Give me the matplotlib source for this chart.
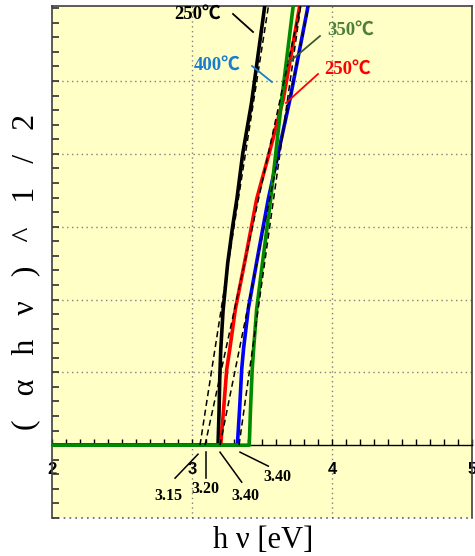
import matplotlib
matplotlib.use("Agg")
import matplotlib.pyplot as plt
from matplotlib.ticker import MultipleLocator, NullFormatter, FixedLocator

# ---- data ----
black_x = [2.00, 3.186, 3.193, 3.198, 3.205, 3.222, 3.255, 3.290, 3.322, 3.362, 3.425, 3.521]
black_y = [0.0, 0.0, 0.45, 0.90, 1.30, 1.85, 2.50, 3.00, 3.40, 4.00, 4.70, 6.05]

red_x = [2.00, 3.205, 3.226, 3.248, 3.270, 3.310, 3.385, 3.462, 3.550, 3.652, 3.771]
red_y = [0.0, 0.0, 0.50, 1.04, 1.32, 1.87, 2.60, 3.38, 4.00, 4.75, 6.05]

blue_x = [2.00, 3.324, 3.340, 3.355, 3.368, 3.402, 3.470, 3.545, 3.700, 3.831]
blue_y = [0.0, 0.0, 0.50, 1.04, 1.32, 1.87, 2.60, 3.38, 4.75, 6.05]

green_x = [2.00, 3.409, 3.418, 3.430, 3.440, 3.462, 3.510, 3.562, 3.641, 3.724]
green_y = [0.0, 0.0, 0.50, 1.04, 1.32, 1.87, 2.60, 3.38, 4.75, 6.05]

# tangent (dashed) lines: x-intercept and slope dx/dy
tangent_x0 = [3.057, 3.093, 3.200, 3.336]
tangent_dxdy = [0.0811, 0.113, 0.105, 0.073]

xticks = [2, 3, 4, 5]
intercept_labels = ["3.15", "3.20", "3.40", "3.40"]
temp_labels = ["250℃", "400℃", "350℃", "250℃"]

# ---- figure ----
fig = plt.figure(figsize=(4.75, 5.56), dpi=100)
ax = fig.add_axes([52/475, 38/556, 420/475, 512/556])
ax.set_facecolor("#ffffc6")
ax.set_xlim(2, 5)
ax.set_ylim(-1, 6.03)

# grid
for gx in [3, 4]:
    ax.axvline(gx, color="#808080", ls=(0, (1, 2.5)), lw=1.0, zorder=1)
for gy in [1, 2, 3, 4, 5]:
    ax.axhline(gy, color="#808080", ls=(0, (1, 2.5)), lw=1.0, zorder=1)

# spines
for s in ["top", "right", "left"]:
    ax.spines[s].set_color("#404040")
    ax.spines[s].set_linewidth(1.2)
ax.spines["bottom"].set_position(("data", 0))
ax.spines["bottom"].set_color("black")
ax.spines["bottom"].set_linewidth(1.0)
ax.axhline(-1, color="#606060", ls=(0, (1, 2.5)), lw=1.2, clip_on=False, zorder=1)

# ticks
ax.xaxis.set_major_locator(FixedLocator(xticks))
ax.xaxis.set_minor_locator(MultipleLocator(0.1))
ax.yaxis.set_major_locator(MultipleLocator(1))
ax.yaxis.set_minor_locator(MultipleLocator(0.2))
ax.yaxis.set_major_formatter(NullFormatter())
ax.tick_params(axis="x", which="both", direction="in", length=4, width=1, pad=12)
ax.tick_params(axis="y", which="both", direction="in", length=5, width=1.2, color="#303030")
ax.set_xticklabels([str(t) for t in xticks], fontfamily="Liberation Sans",
                   fontweight="bold", fontsize=12)

# curves
ax.plot(black_x, black_y, color="black", lw=2.6, zorder=3)
ax.plot(red_x, red_y, color="#ff0000", lw=2.6, zorder=3)
ax.plot(blue_x, blue_y, color="#0000ff", lw=2.6, zorder=3)
ax.plot(green_x, green_y, color="#008a00", lw=2.6, zorder=4)

# tangents
ytop = 6.03
for x0, k in zip(tangent_x0, tangent_dxdy):
    ax.plot([x0, x0 + k * ytop], [0, ytop], color="black", lw=1.1,
            ls=(0, (4, 2.5)), zorder=5)

# temperature labels with leader lines
tfont = dict(family=["Liberation Serif", "Noto Sans CJK JP"], fontweight="bold", fontsize=13.5)
ax.text(3.040, 5.92, temp_labels[0], color="black", ha="center", va="center", **tfont)
ax.plot([3.293, 3.436], [5.92, 5.673], color="black", lw=1.3, zorder=6)
ax.text(3.183, 5.22, temp_labels[1], color="#1a7dcc", ha="center", va="center", **tfont)
ax.plot([3.429, 3.571], [5.206, 4.986], color="#1a7dcc", lw=1.3, zorder=6)
ax.text(4.135, 5.70, temp_labels[2], color="#4f7f3c", ha="center", va="center", **tfont)
ax.plot([3.914, 3.686], [5.618, 5.247], color="#3c5a30", lw=1.3, zorder=6)
ax.text(4.112, 5.165, temp_labels[3], color="#ff0000", ha="center", va="center", **tfont)
ax.plot([3.900, 3.671], [5.096, 4.698], color="#ff0000", lw=1.3, zorder=6)

# intercept annotations
nfont = dict(family="Liberation Serif", fontweight="bold", fontsize=11.5)
ax.text(2.829, -0.70, intercept_labels[0], ha="center", va="center", **nfont)
ax.plot([2.879, 3.043], [-0.453, -0.124], color="black", lw=1.1, clip_on=False)
ax.text(3.093, -0.60, intercept_labels[1], ha="center", va="center", **nfont)
ax.plot([3.098, 3.098], [-0.096, -0.453], color="black", lw=1.1, clip_on=False)
ax.text(3.379, -0.70, intercept_labels[2], ha="center", va="center", **nfont)
ax.plot([3.200, 3.355], [-0.096, -0.508], color="black", lw=1.1, clip_on=False)
ax.text(3.607, -0.44, intercept_labels[3], ha="center", va="center", **nfont)
ax.plot([3.343, 3.545], [-0.096, -0.288], color="black", lw=1.1, clip_on=False)

# axis labels
fig.text(263/475, 1 - 541/556, "h ν [eV]", ha="center", va="center",
         family="Liberation Serif", fontsize=22)
fig.text(26/475, 1 - 272/556, "(   α   h   ν   )   ^   1   /   2", ha="center", va="center",
         rotation=90, family="Liberation Serif", fontsize=23)

fig.savefig("out.png", dpi=100)
